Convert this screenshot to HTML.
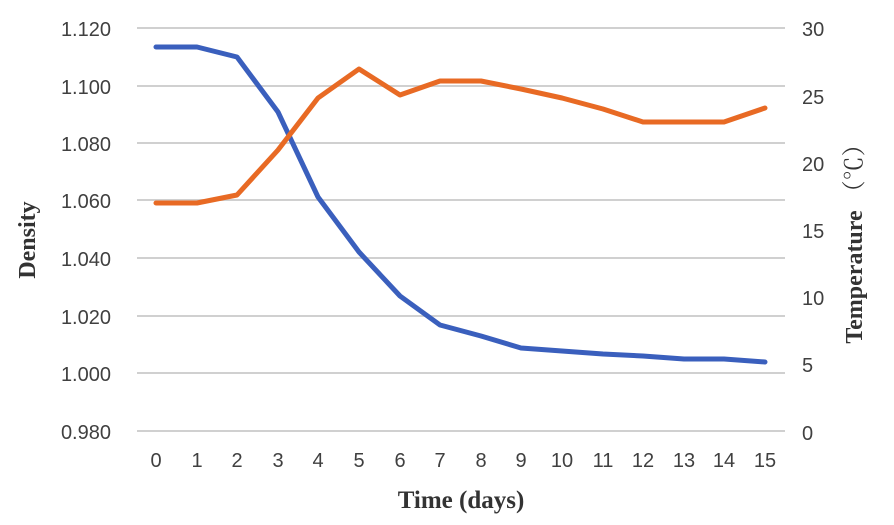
<!DOCTYPE html>
<html><head><meta charset="utf-8"><style>body{margin:0;background:#fff}</style></head><body>
<svg width="894" height="520" xmlns="http://www.w3.org/2000/svg" font-family="Liberation Sans, sans-serif">
<rect width="894" height="520" fill="#fff"/>
<g stroke="#d0d0d0" stroke-width="2">
<line x1="137" x2="785" y1="28" y2="28"/><line x1="137" x2="785" y1="86" y2="86"/>
<line x1="137" x2="785" y1="143" y2="143"/><line x1="137" x2="785" y1="200" y2="200"/>
<line x1="137" x2="785" y1="258" y2="258"/><line x1="137" x2="785" y1="316" y2="316"/>
<line x1="137" x2="785" y1="373" y2="373"/><line x1="137" x2="785" y1="431" y2="431"/>
</g>
<g font-size="20" fill="#404040" text-anchor="end">
<text x="111" y="36">1.120</text><text x="111" y="94">1.100</text><text x="111" y="151">1.080</text>
<text x="111" y="208">1.060</text><text x="111" y="266">1.040</text><text x="111" y="324">1.020</text>
<text x="111" y="381">1.000</text><text x="111" y="439">0.980</text>
</g>
<g font-size="20" fill="#404040" text-anchor="start">
<text x="802" y="36">30</text><text x="802" y="104">25</text><text x="802" y="171">20</text>
<text x="802" y="238">15</text><text x="802" y="305">10</text><text x="802" y="372">5</text><text x="802" y="440">0</text>
</g>
<g font-size="20" fill="#404040" text-anchor="middle">
<text x="156" y="467">0</text><text x="197" y="467">1</text><text x="237" y="467">2</text><text x="278" y="467">3</text>
<text x="318" y="467">4</text><text x="359" y="467">5</text><text x="400" y="467">6</text><text x="440" y="467">7</text>
<text x="481" y="467">8</text><text x="521" y="467">9</text><text x="562" y="467">10</text><text x="603" y="467">11</text>
<text x="643" y="467">12</text><text x="684" y="467">13</text><text x="724" y="467">14</text><text x="765" y="467">15</text>
</g>
<text x="461" y="508" font-family="Liberation Serif, serif" font-weight="bold" font-size="25" fill="#333" text-anchor="middle">Time (days)</text>
<text transform="translate(35,240) rotate(-90)" font-family="Liberation Serif, serif" font-weight="bold" font-size="24" fill="#333" text-anchor="middle">Density</text>
<text transform="translate(862,238) rotate(-90)" font-family="Liberation Serif, 'Noto Serif CJK SC', serif" font-weight="bold" font-size="24" fill="#333" text-anchor="middle">Temperature <tspan font-weight="normal">（℃）</tspan></text>
<polyline fill="none" stroke="#3a5fbd" stroke-width="5" stroke-linejoin="round" stroke-linecap="round"
points="156,47 197,47 237,57 278,112 318,197 359,252 400,296 440,325 481,336 521,348 562,351 603,354 643,356 684,359 724,359 765,362"/>
<polyline fill="none" stroke="#e86a24" stroke-width="5" stroke-linejoin="round" stroke-linecap="round"
points="156,203 197,203 237,195 278,150 318,98 359,69 400,95 440,81 481,81 521,89 562,98 603,109 643,122 684,122 724,122 765,108"/>
</svg>
</body></html>
